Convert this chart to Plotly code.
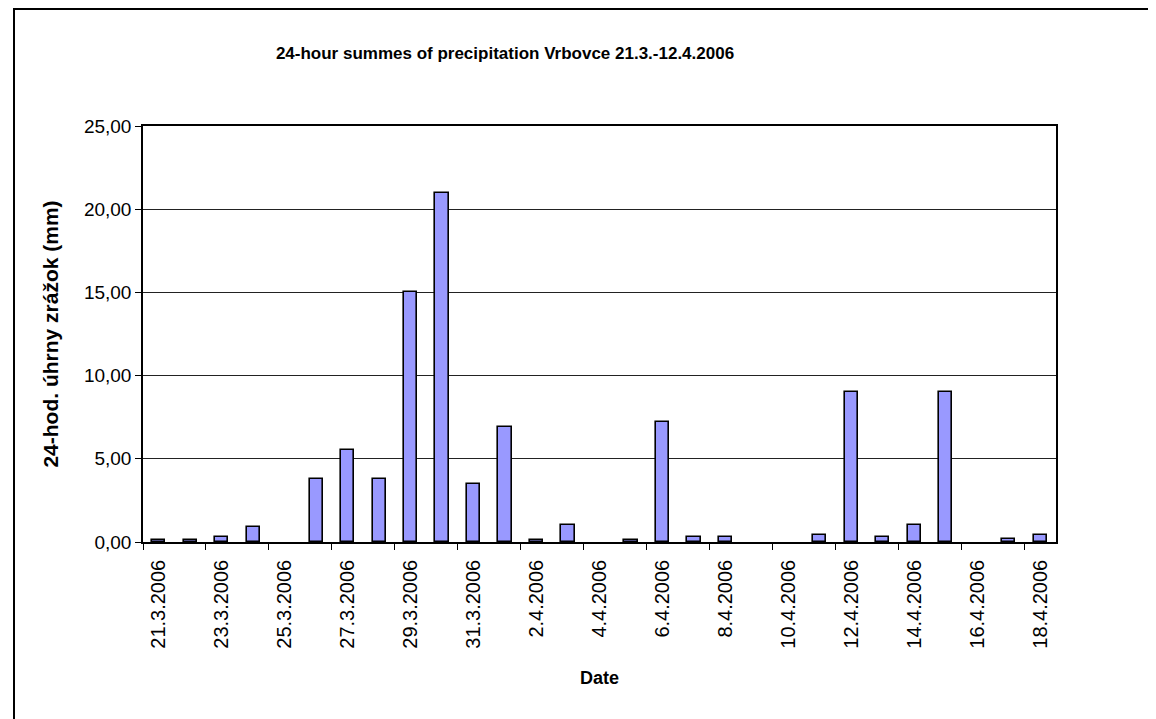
import plotly.graph_objects as go

dates = ["21.3.2006", "22.3.2006", "23.3.2006", "24.3.2006", "25.3.2006", "26.3.2006",
         "27.3.2006", "28.3.2006", "29.3.2006", "30.3.2006", "31.3.2006", "1.4.2006",
         "2.4.2006", "3.4.2006", "4.4.2006", "5.4.2006", "6.4.2006", "7.4.2006",
         "8.4.2006", "9.4.2006", "10.4.2006", "11.4.2006", "12.4.2006", "13.4.2006",
         "14.4.2006", "15.4.2006", "16.4.2006", "17.4.2006", "18.4.2006"]
precip = [0.1, 0.1, 0.3, 0.9, None, 3.8,
          5.5, 3.8, 15.0, 21.0, 3.5, 6.9,
          0.1, 1.0, None, 0.1, 7.2, 0.3,
          0.3, None, None, 0.4, 9.0, 0.3,
          1.0, 9.0, None, 0.2, 0.4]
y_ticks = [0, 5, 10, 15, 20, 25]

idx = list(range(len(dates)))
label_pos = idx[::2]
label_text = dates[::2]
boundary_pos = [i - 0.5 for i in idx[::2]]

FONT = "Liberation Sans, Arial, sans-serif"

fig = go.Figure()
fig.add_trace(go.Bar(
    x=idx, y=precip, width=0.42,
    marker=dict(color="#9999FF", line=dict(color="black", width=1.6)),
    showlegend=False, hoverinfo="y",
))

OFF = 7  # page offset of the rendered figure
W, H = 1156 - OFF - 1, 719 - OFF - 1
L, R, T, B = 142 - OFF, 1055 - OFF, 125 - OFF, 541 - OFF
pw, ph = R - L, B - T

fig.update_layout(
    width=W, height=H,
    margin=dict(l=L, r=W - R, t=T, b=H - B, pad=0),
    paper_bgcolor="white", plot_bgcolor="white",
    separators=", ",
    font=dict(family=FONT, color="black", size=17),
    title=dict(text="<b>24-hour summes of precipitation Vrbovce 21.3.-12.4.2006</b>",
               x=(504 - OFF) / W, xanchor="center", y=1 - (52 - OFF) / H, yanchor="middle",
               font=dict(size=17, family=FONT, color="black")),
    bargap=0,
)

fig.update_xaxes(
    range=[-0.5, len(dates) - 0.5],
    tickmode="array", tickvals=label_pos, ticktext=label_text,
    tickangle=-90, ticks="", ticklabelstandoff=8,
    tickfont=dict(size=20, family=FONT, color="black"),
    minor=dict(tickmode="array", tickvals=boundary_pos, ticks="outside",
               ticklen=6, tickcolor="black", tickwidth=1, showgrid=False),
    showline=True, linecolor="black", linewidth=1.5, mirror=True,
    showgrid=False, zeroline=False,
    title=dict(text="<b>Date</b>", font=dict(size=18, family=FONT, color="black"), standoff=24),
)
fig.update_yaxes(
    range=[0, 25], tickmode="array", tickvals=y_ticks, tickformat=".2f",
    ticks="outside", ticklen=6, tickcolor="black", tickwidth=1,
    tickfont=dict(size=19, family=FONT, color="black"),
    showline=True, linecolor="black", linewidth=1.5, mirror=True,
    showgrid=True, gridcolor="#222222", gridwidth=1, zeroline=False,
    title=dict(text="<b>24-hod. úhrny zrážok (mm)</b>", font=dict(size=21, family=FONT, color="black"), standoff=20),
)

# outer chart-area frame
fig.add_shape(type="rect", xref="paper", yref="paper",
              x0=(13 - OFF - L) / pw, x1=(1170 - L) / pw,
              y0=(B - 730) / ph, y1=(B - (8 - OFF)) / ph,
              line=dict(color="black", width=2), fillcolor="rgba(0,0,0,0)", layer="below")

fig.write_html("out.html")
